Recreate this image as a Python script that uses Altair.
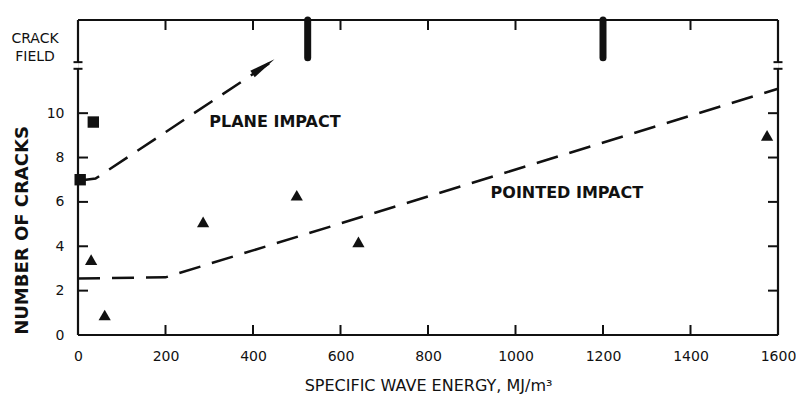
import altair as alt
import pandas as pd

# ---- axis structure ----
X_TICKS = [0, 200, 400, 600, 800, 1000, 1200, 1400, 1600]
X_INNER_TICKS = [200, 400, 600, 800, 1000, 1200, 1400]
TOP_TICKS = [200, 400, 600, 800, 1000, 1400]
Y_TICKS = [0, 2, 4, 6, 8, 10]
Y_INNER_TICKS = [2, 4, 6, 8, 10]
X_MAX = 1600
Y_TOP = 14.2
BREAK_LO, BREAK_HI = 12.0, 12.3

# ---- data ----
plane_x = [5, 35]
plane_y = [7.0, 9.6]
pointed_x = [30, 61, 286, 500, 641, 1575]
pointed_y = [3.4, 0.9, 5.1, 6.3, 4.2, 9.0]
plane_line_x = [0, 40, 441]
plane_line_y = [6.95, 7.05, 12.3]
pointed_line_x = [0, 200, 1600]
pointed_line_y = [2.55, 2.6, 11.1]
arrow_x = [424]
arrow_y = [12.1]
crack_x = [525, 1200]
crack_bottom = 12.5

W, H = 700, 315
FONT = "DejaVu Sans"
INK = "#111111"

xs = alt.Scale(domain=[0, X_MAX], nice=False, zero=False)
ys = alt.Scale(domain=[0, Y_TOP], nice=False, zero=False)

x_axis = alt.Axis(values=X_TICKS, format="d", title="SPECIFIC WAVE ENERGY, MJ/m³", grid=False,
                  ticks=False, tickSize=0, domain=False, labelPadding=14,
                  labelFontSize=14, labelFont=FONT, labelColor=INK, labelFlush=False,
                  labelOverlap=False, titleFont=FONT, titleFontSize=16,
                  titleFontWeight="normal", titleColor=INK, titleY=50,
                  titleBaseline="middle")
y_axis = alt.Axis(values=Y_TICKS, format="d", title="NUMBER OF CRACKS", grid=False,
                  ticks=False, tickSize=0, domain=False, labelPadding=14,
                  labelFontSize=14, labelFont=FONT, labelColor=INK,
                  labelOverlap=False, titleFont=FONT, titleFontSize=18,
                  titleFontWeight="bold", titleColor=INK, titleX=-56, titleY=210,
                  titleBaseline="middle", titleAlign="center")


def X(f):
    return alt.X(f, type="quantitative", scale=xs, axis=x_axis)


def Y(f):
    return alt.Y(f, type="quantitative", scale=ys, axis=y_axis)


# frame segments (left/right axes broken between BREAK_LO and BREAK_HI)
frame = pd.DataFrame({
    "x": [0, 0, 0, X_MAX, X_MAX, 0],
    "x2": [X_MAX, 0, 0, X_MAX, X_MAX, X_MAX],
    "y": [0, 0, BREAK_HI, 0, BREAK_HI, Y_TOP],
    "y2": [0, BREAK_LO, Y_TOP, BREAK_LO, Y_TOP, Y_TOP],
})
frame_layer = alt.Chart(frame).mark_rule(color=INK, strokeWidth=2.2).encode(
    x=X("x"), x2="x2", y=Y("y"), y2="y2")

caps = pd.DataFrame({"x": [0, 0, X_MAX, X_MAX],
                     "y": [BREAK_LO, BREAK_HI, BREAK_LO, BREAK_HI]})
caps_layer = alt.Chart(caps).mark_tick(orient="horizontal", size=9, thickness=2,
                                       color=INK, opacity=1).encode(x=X("x"), y=Y("y"))

left_ticks = alt.Chart(pd.DataFrame({"y": Y_INNER_TICKS})).mark_rule(
    color=INK, strokeWidth=2).encode(y=Y("y"), x=alt.value(0), x2=alt.value(10))
right_ticks = alt.Chart(pd.DataFrame({"y": Y_INNER_TICKS})).mark_rule(
    color=INK, strokeWidth=2).encode(y=Y("y"), x=alt.value(W), x2=alt.value(W - 10))
bottom_ticks = alt.Chart(pd.DataFrame({"x": X_INNER_TICKS})).mark_rule(
    color=INK, strokeWidth=2).encode(x=X("x"), y=alt.value(H), y2=alt.value(H - 10))
top_ticks = alt.Chart(pd.DataFrame({"x": TOP_TICKS})).mark_rule(
    color=INK, strokeWidth=2).encode(x=X("x"), y=alt.value(0), y2=alt.value(10))

crack_df = pd.DataFrame({"x": crack_x, "y": [crack_bottom] * len(crack_x),
                         "y2": [Y_TOP] * len(crack_x)})
crack_layer = alt.Chart(crack_df).mark_rule(color=INK, strokeWidth=7,
                                            strokeCap="round").encode(
    x=X("x"), y=Y("y"), y2="y2")

plane_line = alt.Chart(pd.DataFrame({"x": plane_line_x, "y": plane_line_y})).mark_line(
    color=INK, strokeWidth=2.5, strokeDash=[22, 12]).encode(x=X("x"), y=Y("y"))
pointed_line = alt.Chart(pd.DataFrame({"x": pointed_line_x, "y": pointed_line_y})).mark_line(
    color=INK, strokeWidth=2.5, strokeDash=[22, 12]).encode(x=X("x"), y=Y("y"))

arrow = alt.Chart(pd.DataFrame({"x": arrow_x, "y": arrow_y})).mark_point(
    shape="M0,-1L0.3,1L-0.3,1Z", filled=True, color=INK, opacity=1, size=700,
    angle=56, strokeWidth=0).encode(x=X("x"), y=Y("y"))

squares = alt.Chart(pd.DataFrame({"x": plane_x, "y": plane_y})).mark_point(
    shape="square", filled=True, color=INK, opacity=1, size=130).encode(
    x=X("x"), y=Y("y"))
triangles = alt.Chart(pd.DataFrame({"x": pointed_x, "y": pointed_y})).mark_point(
    shape="triangle-up", filled=True, color=INK, opacity=1, size=150).encode(
    x=X("x"), y=Y("y"))

labels = alt.Chart(pd.DataFrame({"x": [300, 943], "y": [9.6, 6.4],
                                 "t": ["PLANE IMPACT", "POINTED IMPACT"]})).mark_text(
    align="left", baseline="middle", font=FONT, fontSize=16, fontWeight="bold",
    color=INK).encode(x=X("x"), y=Y("y"), text="t:N")

crack_text = alt.Chart(pd.DataFrame({"y": [13.35, 12.55], "t": ["CRACK", "FIELD"]})).mark_text(
    align="center", baseline="middle", font=FONT, fontSize=14, color=INK).encode(
    x=alt.value(-43), y=Y("y"), text="t:N")

chart = alt.layer(
    frame_layer, caps_layer, left_ticks, right_ticks, bottom_ticks, top_ticks,
    crack_layer, plane_line, pointed_line, arrow, squares, triangles, labels, crack_text
).properties(
    width=W, height=H,
    autosize=alt.AutoSizeParams(type="none"),
    padding={"left": 70, "top": 12, "right": 18, "bottom": 73},
).configure_view(stroke=None).configure(background="white")

chart.save("out.html", embed_options={"renderer": "svg", "actions": False})
